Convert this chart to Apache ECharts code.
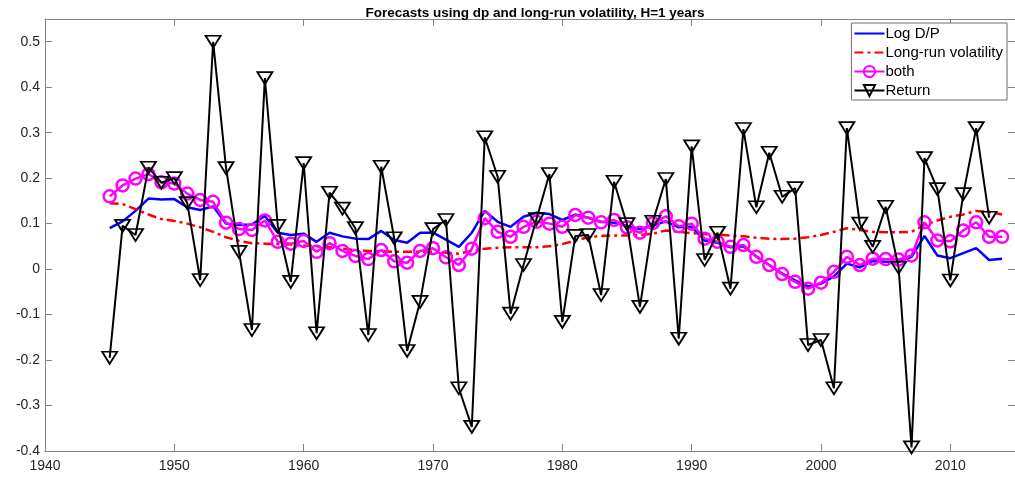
<!DOCTYPE html>
<html>
<head>
<meta charset="utf-8">
<title>Forecasts</title>
<style>
  html, body { margin: 0; padding: 0; background: #fff; }
  #main { width: 1015px; height: 478px; }
</style>
</head>
<body>
<div id="main"></div>
<script src="https://cdn.jsdelivr.net/npm/echarts@6/dist/echarts.min.js"></script>
<script>
var years = [1945,1946,1947,1948,1949,1950,1951,1952,1953,1954,1955,1956,1957,1958,1959,
  1960,1961,1962,1963,1964,1965,1966,1967,1968,1969,1970,1971,1972,1973,1974,1975,1976,
  1977,1978,1979,1980,1981,1982,1983,1984,1985,1986,1987,1988,1989,1990,1991,1992,1993,
  1994,1995,1996,1997,1998,1999,2000,2001,2002,2003,2004,2005,2006,2007,2008,2009,2010,
  2011,2012,2013,2014];

var logDP = [0.09,0.105,0.128,0.155,0.153,0.154,0.136,0.13,0.138,0.1,0.097,0.098,0.117,0.08,0.075,
  0.078,0.06,0.08,0.072,0.067,0.066,0.084,0.064,0.058,0.08,0.08,0.065,0.049,0.08,0.128,0.104,0.093,
  0.115,0.124,0.121,0.108,0.12,0.113,0.104,0.102,0.095,0.088,0.096,0.105,0.092,0.093,0.063,0.058,0.048,
  0.05,0.028,0.009,-0.01,-0.025,-0.038,-0.032,-0.016,0.012,0.004,0.018,0.016,0.016,0.027,0.073,0.03,0.024,
  0.035,0.046,0.02,0.023];

var longRunVol = [0.145,0.143,0.132,0.12,0.11,0.106,0.1,0.092,0.082,0.07,0.062,0.057,0.056,0.055,0.054,
  0.052,0.05,0.048,0.045,0.042,0.04,0.04,0.038,0.038,0.038,0.038,0.036,0.034,0.04,0.045,0.047,0.048,
  0.048,0.048,0.05,0.055,0.063,0.07,0.073,0.074,0.074,0.075,0.078,0.085,0.082,0.079,0.077,0.076,0.074,
  0.072,0.069,0.067,0.066,0.067,0.07,0.075,0.082,0.09,0.086,0.082,0.081,0.081,0.082,0.097,0.107,0.115,
  0.12,0.128,0.126,0.12];

var both = [0.16,0.184,0.199,0.209,0.191,0.188,0.166,0.152,0.148,0.102,0.088,0.086,0.107,0.06,0.056,
  0.062,0.038,0.057,0.04,0.029,0.022,0.042,0.017,0.014,0.04,0.046,0.026,0.009,0.045,0.112,0.082,0.071,
  0.093,0.104,0.1,0.093,0.119,0.113,0.103,0.108,0.092,0.08,0.101,0.116,0.094,0.1,0.067,0.06,0.049,
  0.053,0.027,0.009,-0.011,-0.028,-0.043,-0.03,-0.006,0.027,0.009,0.023,0.022,0.021,0.03,0.103,0.063,0.061,
  0.085,0.103,0.071,0.071];

// realised return, last year missing
var ret = [-0.195,0.095,0.075,0.223,0.19,0.2,0.145,-0.024,0.5,0.222,0.038,-0.134,0.42,0.095,-0.028,
  0.233,-0.141,0.168,0.133,0.09,-0.145,0.225,0.068,-0.18,-0.072,0.088,0.108,-0.262,-0.347,0.29,0.203,-0.098,
  0.009,0.11,0.209,-0.116,0.073,0.075,-0.057,0.192,0.099,-0.083,0.104,0.198,-0.153,0.27,0.02,0.08,-0.043,
  0.308,0.136,0.256,0.159,0.178,-0.167,-0.156,-0.262,0.31,0.1,0.049,0.137,0.003,-0.392,0.244,0.176,-0.025,
  0.165,0.31,0.113,null];

var xTicks = [1940, 2015, 10];
var yTicks = [-0.4, 0.55, 0.1];

function pairs(vals) {
  var out = [];
  for (var i = 0; i < years.length; i++) {
    if (vals[i] !== null && vals[i] !== undefined) out.push([years[i], vals[i]]);
  }
  return out;
}

var axisGray = '#858585';
var fontFam = 'Liberation Sans, Arial, sans-serif';
var labelFont = { color: '#262626', fontSize: 14, fontFamily: fontFam };
var noSymbol = { color: 'rgba(0,0,0,0)', borderWidth: 0 };

var chart = echarts.init(document.getElementById('main'));
var option = {
  animation: false,
  title: {
    text: 'Forecasts using dp and long-run volatility, H=1 years',
    left: 530,
    textAlign: 'center',
    top: 1,
    textStyle: { fontSize: 13.5, fontWeight: 'bold', color: '#000', fontFamily: fontFam }
  },
  grid: { left: 45, right: 0, top: 19, bottom: 27, containLabel: false },
  legend: {
    orient: 'vertical',
    right: 8,
    top: 23,
    backgroundColor: '#fff',
    borderColor: '#6e6e6e',
    borderWidth: 1,
    padding: [3, 4, 2, 2],
    itemWidth: 30,
    itemHeight: 14,
    itemGap: 4,
    textStyle: { fontSize: 15, color: '#000', fontFamily: fontFam, padding: [0, 0, 0, -4] },
    data: [
      { name: 'Log D/P', itemStyle: noSymbol },
      { name: 'Long-run volatility', itemStyle: noSymbol },
      'both',
      'Return'
    ]
  },
  xAxis: [{
    type: 'value', min: xTicks[0], max: xTicks[1], interval: xTicks[2],
    axisLine: { onZero: false, lineStyle: { color: axisGray, width: 1 } },
    axisTick: { inside: true, length: 7, lineStyle: { color: axisGray } },
    axisLabel: Object.assign({ margin: 8, showMaxLabel: false, formatter: function (v) { return String(v); } }, labelFont),
    splitLine: { show: false }
  }, {
    type: 'value', position: 'top', min: xTicks[0], max: xTicks[1], interval: xTicks[2],
    axisLine: { onZero: false, lineStyle: { color: axisGray, width: 1 } },
    axisTick: { inside: true, length: 7, lineStyle: { color: axisGray } },
    axisLabel: { show: false },
    splitLine: { show: false }
  }],
  yAxis: [{
    type: 'value', min: yTicks[0], max: yTicks[1], interval: yTicks[2],
    axisLine: { show: true, onZero: false, lineStyle: { color: axisGray, width: 1 } },
    axisTick: { show: true, inside: true, length: 7, lineStyle: { color: axisGray } },
    axisLabel: Object.assign({ margin: 5, showMaxLabel: false }, labelFont),
    splitLine: { show: false }
  }, {
    type: 'value', position: 'right', min: yTicks[0], max: yTicks[1], interval: yTicks[2],
    axisLine: { show: true, onZero: false, lineStyle: { color: axisGray, width: 1 } },
    axisTick: { show: true, inside: true, length: 7, lineStyle: { color: axisGray } },
    axisLabel: { show: false },
    splitLine: { show: false }
  }],
  series: [{
    name: 'Log D/P', type: 'line', data: pairs(logDP),
    symbol: 'none', z: 2,
    lineStyle: { color: '#0000ff', width: 2.5 },
    itemStyle: { color: '#0000ff' }
  }, {
    name: 'Long-run volatility', type: 'line', data: pairs(longRunVol),
    symbol: 'none', z: 3,
    lineStyle: { color: '#ff0000', width: 2.5, type: [9, 4, 3, 4] },
    itemStyle: { color: '#ff0000' }
  }, {
    name: 'both', type: 'line', data: pairs(both),
    symbol: 'circle', symbolSize: 12, showAllSymbol: true, z: 4,
    lineStyle: { color: '#ff00ff', width: 2.5 },
    itemStyle: { color: 'rgba(255,255,255,0)', borderColor: '#ff00ff', borderWidth: 2.5 }
  }, {
    name: 'Return', type: 'line', data: pairs(ret),
    symbol: 'triangle', symbolRotate: 180, symbolSize: [15, 12], showAllSymbol: true, z: 5,
    lineStyle: { color: '#000', width: 2 },
    itemStyle: { color: 'rgba(255,255,255,0)', borderColor: '#000', borderWidth: 1.8 }
  }]
};
chart.setOption(option);
</script>
</body>
</html>
